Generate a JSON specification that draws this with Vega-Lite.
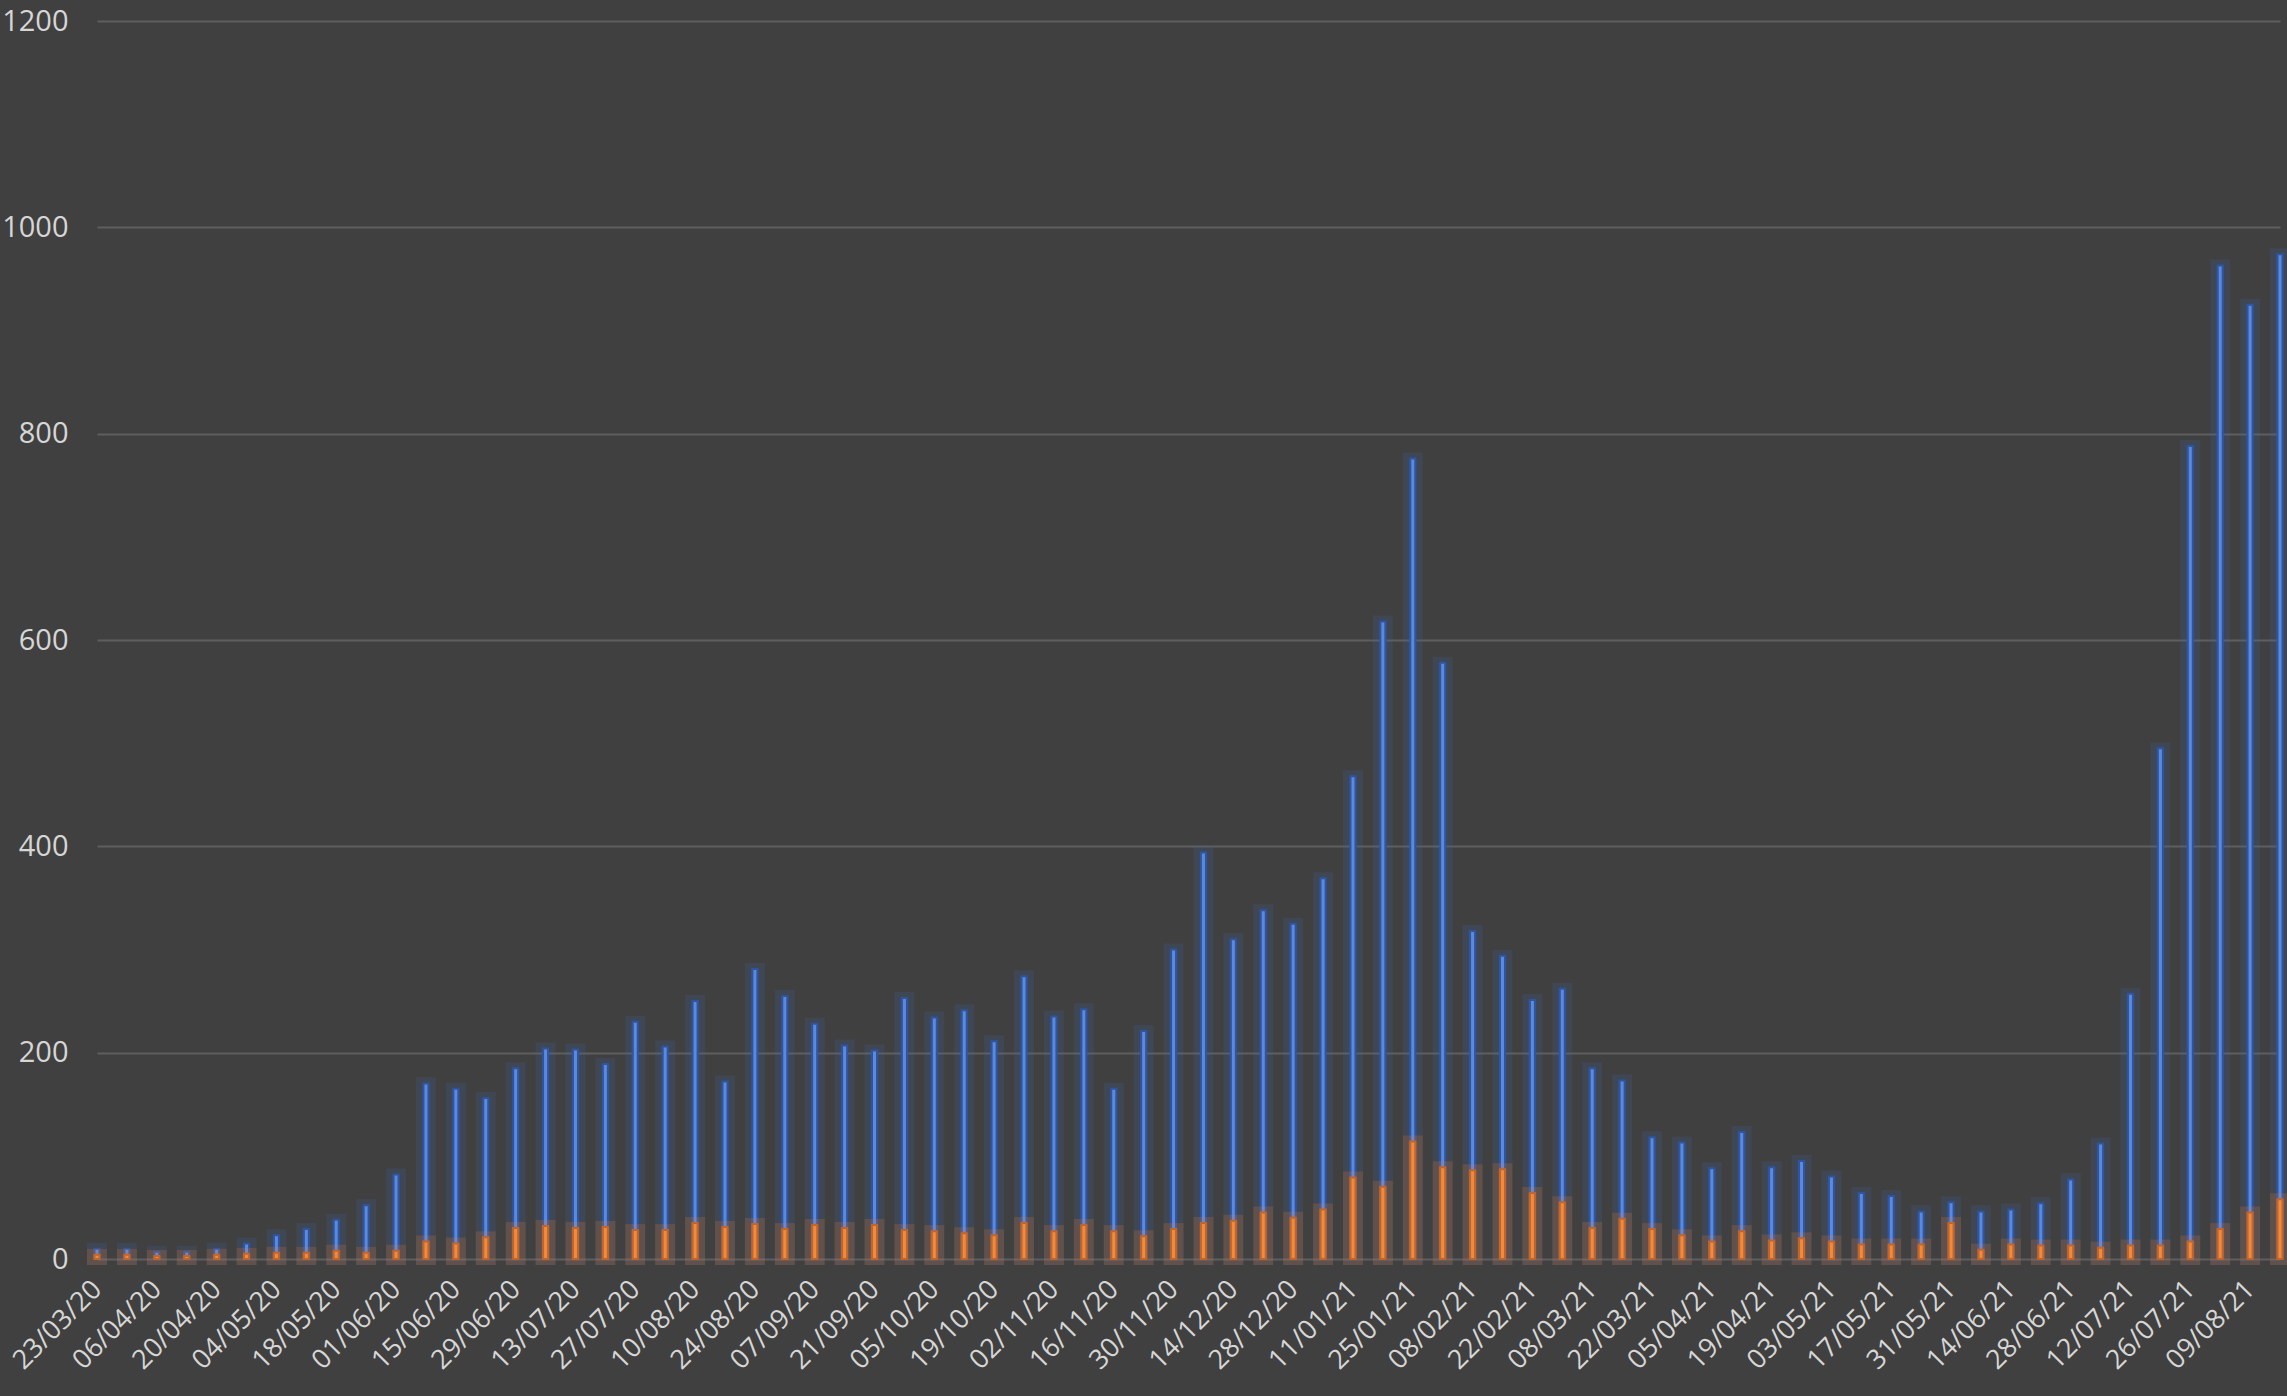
{
  "$schema": "https://vega.github.io/schema/vega-lite/v6.json",
  "width": 2183,
  "height": 1238,
  "autosize": {"type": "none"},
  "padding": {"left": 97, "top": 21, "right": 7, "bottom": 137},
  "background": "#404040",
  "config": {
    "view": {"stroke": null},
    "axis": {"labelFont": "Open Sans", "labelFontSize": 29, "labelColor": "#d6d6d6", "domain": false, "ticks": false}
  },
  "data": {"values": [
    {"week": "23/03/20", "cases": 10, "deaths": 4},
    {"week": "30/03/20", "cases": 10, "deaths": 4},
    {"week": "06/04/20", "cases": 7, "deaths": 3},
    {"week": "13/04/20", "cases": 7, "deaths": 3},
    {"week": "20/04/20", "cases": 10, "deaths": 4},
    {"week": "27/04/20", "cases": 15, "deaths": 5},
    {"week": "04/05/20", "cases": 23, "deaths": 6},
    {"week": "11/05/20", "cases": 29, "deaths": 6},
    {"week": "18/05/20", "cases": 38, "deaths": 8},
    {"week": "25/05/20", "cases": 52, "deaths": 6},
    {"week": "01/06/20", "cases": 82, "deaths": 8},
    {"week": "08/06/20", "cases": 170, "deaths": 17},
    {"week": "15/06/20", "cases": 165, "deaths": 15},
    {"week": "22/06/20", "cases": 156, "deaths": 21},
    {"week": "29/06/20", "cases": 185, "deaths": 30},
    {"week": "06/07/20", "cases": 204, "deaths": 32},
    {"week": "13/07/20", "cases": 203, "deaths": 30},
    {"week": "20/07/20", "cases": 189, "deaths": 31},
    {"week": "27/07/20", "cases": 230, "deaths": 28},
    {"week": "03/08/20", "cases": 206, "deaths": 28},
    {"week": "10/08/20", "cases": 250, "deaths": 35},
    {"week": "17/08/20", "cases": 172, "deaths": 31},
    {"week": "24/08/20", "cases": 281, "deaths": 34},
    {"week": "31/08/20", "cases": 255, "deaths": 29},
    {"week": "07/09/20", "cases": 228, "deaths": 33},
    {"week": "14/09/20", "cases": 207, "deaths": 30},
    {"week": "21/09/20", "cases": 202, "deaths": 33},
    {"week": "28/09/20", "cases": 253, "deaths": 28},
    {"week": "05/10/20", "cases": 234, "deaths": 27},
    {"week": "12/10/20", "cases": 241, "deaths": 25},
    {"week": "19/10/20", "cases": 211, "deaths": 23},
    {"week": "26/10/20", "cases": 274, "deaths": 35},
    {"week": "02/11/20", "cases": 235, "deaths": 27},
    {"week": "09/11/20", "cases": 242, "deaths": 33},
    {"week": "16/11/20", "cases": 165, "deaths": 27},
    {"week": "23/11/20", "cases": 221, "deaths": 22},
    {"week": "30/11/20", "cases": 300, "deaths": 29},
    {"week": "07/12/20", "cases": 394, "deaths": 35},
    {"week": "14/12/20", "cases": 310, "deaths": 37},
    {"week": "21/12/20", "cases": 338, "deaths": 45},
    {"week": "28/12/20", "cases": 325, "deaths": 40},
    {"week": "04/01/21", "cases": 369, "deaths": 48},
    {"week": "11/01/21", "cases": 468, "deaths": 79},
    {"week": "18/01/21", "cases": 618, "deaths": 70},
    {"week": "25/01/21", "cases": 776, "deaths": 114},
    {"week": "01/02/21", "cases": 578, "deaths": 89},
    {"week": "08/02/21", "cases": 318, "deaths": 86},
    {"week": "15/02/21", "cases": 294, "deaths": 87},
    {"week": "22/02/21", "cases": 251, "deaths": 64},
    {"week": "01/03/21", "cases": 262, "deaths": 55},
    {"week": "08/03/21", "cases": 185, "deaths": 30},
    {"week": "15/03/21", "cases": 173, "deaths": 39},
    {"week": "22/03/21", "cases": 118, "deaths": 29},
    {"week": "29/03/21", "cases": 113, "deaths": 23},
    {"week": "05/04/21", "cases": 88, "deaths": 17},
    {"week": "12/04/21", "cases": 123, "deaths": 27},
    {"week": "19/04/21", "cases": 89, "deaths": 18},
    {"week": "26/04/21", "cases": 95, "deaths": 20},
    {"week": "03/05/21", "cases": 80, "deaths": 17},
    {"week": "10/05/21", "cases": 64, "deaths": 14},
    {"week": "17/05/21", "cases": 61, "deaths": 14},
    {"week": "24/05/21", "cases": 46, "deaths": 14},
    {"week": "31/05/21", "cases": 55, "deaths": 35},
    {"week": "07/06/21", "cases": 46, "deaths": 9},
    {"week": "14/06/21", "cases": 48, "deaths": 14},
    {"week": "21/06/21", "cases": 54, "deaths": 13},
    {"week": "28/06/21", "cases": 77, "deaths": 13},
    {"week": "05/07/21", "cases": 112, "deaths": 11},
    {"week": "12/07/21", "cases": 257, "deaths": 13},
    {"week": "19/07/21", "cases": 495, "deaths": 13},
    {"week": "26/07/21", "cases": 788, "deaths": 17},
    {"week": "02/08/21", "cases": 963, "deaths": 29},
    {"week": "09/08/21", "cases": 925, "deaths": 45},
    {"week": "16/08/21", "cases": 974, "deaths": 58}
  ]},
  "encoding": {
    "x": {
      "field": "week", "type": "ordinal", "sort": null,
      "scale": {"type": "point", "padding": 0},
      "axis": {
        "title": null, "grid": false, "labelAngle": -45, "labelAlign": "right", "labelBaseline": "middle", "labelPadding": 26, "labelDx": 5, "labelFontSize": 27,
        "values": ["23/03/20","06/04/20","20/04/20","04/05/20","18/05/20","01/06/20","15/06/20","29/06/20","13/07/20","27/07/20","10/08/20","24/08/20","07/09/20","21/09/20","05/10/20","19/10/20","02/11/20","16/11/20","30/11/20","14/12/20","28/12/20","11/01/21","25/01/21","08/02/21","22/02/21","08/03/21","22/03/21","05/04/21","19/04/21","03/05/21","17/05/21","31/05/21","14/06/21","28/06/21","12/07/21","26/07/21","09/08/21"]
      }
    }
  },
  "layer": [
    {
      "mark": {"type": "bar", "size": 8, "color": "#3d64b0", "fillOpacity": 0.2, "stroke": "#3d64b0", "strokeWidth": 12, "strokeOpacity": 0.18},
      "encoding": {
        "y": {"field": "cases", "type": "quantitative", "scale": {"domain": [0, 1200]},
          "axis": {"title": null, "grid": true, "gridColor": "#5e5e5e", "gridWidth": 2, "format": "d", "values": [0, 200, 400, 600, 800, 1000, 1200], "labelPadding": 29}}
      }
    },
    {
      "mark": {"type": "bar", "size": 5, "color": "#5a8ae0", "stroke": "#2f55a0", "strokeWidth": 2},
      "encoding": {"y": {"field": "cases", "type": "quantitative"}}
    },
    {
      "mark": {"type": "bar", "size": 8, "color": "#ed7d31", "fillOpacity": 0.22, "stroke": "#ed7d31", "strokeWidth": 12, "strokeOpacity": 0.2},
      "encoding": {"y": {"field": "deaths", "type": "quantitative"}}
    },
    {
      "mark": {"type": "bar", "size": 5, "color": "#f28a3c", "stroke": "#c0662c", "strokeWidth": 2},
      "encoding": {"y": {"field": "deaths", "type": "quantitative"}}
    }
  ]
}
